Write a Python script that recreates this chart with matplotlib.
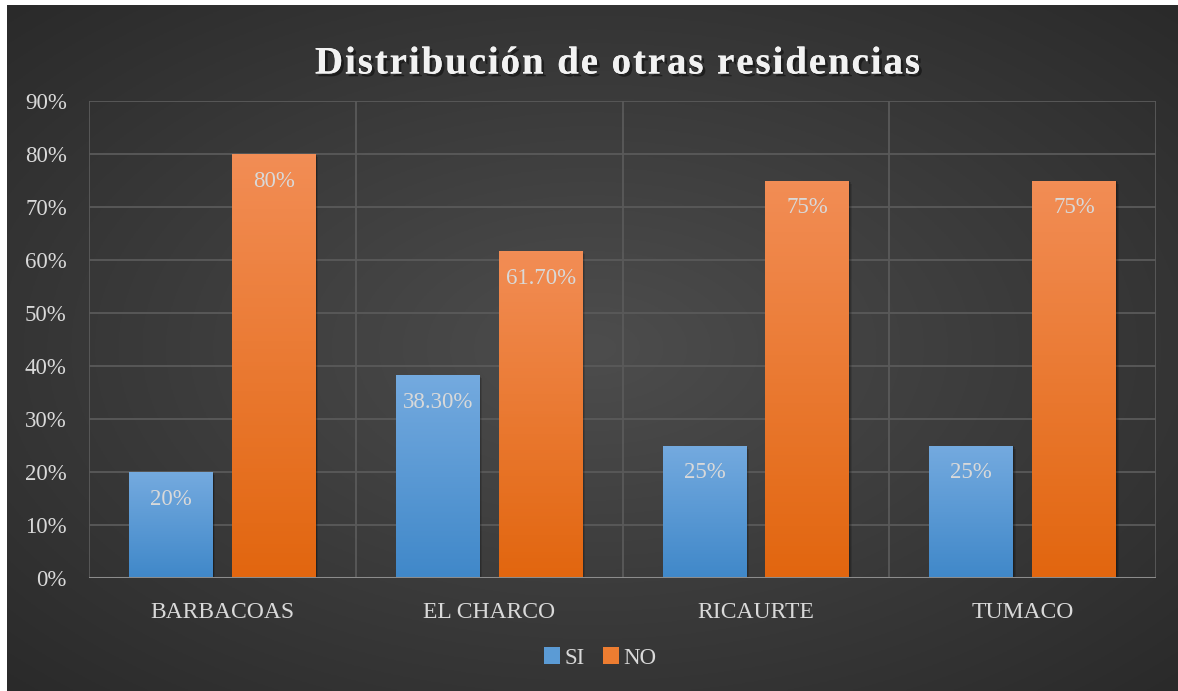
import numpy as np
import matplotlib
matplotlib.use("Agg")
import matplotlib.pyplot as plt
from matplotlib.patches import Rectangle, Patch
import matplotlib.patheffects as pe
from matplotlib.font_manager import FontProperties, findfont, get_font

categories = ["BARBACOAS", "EL CHARCO", "RICAURTE", "TUMACO"]
si_values = [0.20, 0.383, 0.25, 0.25]
no_values = [0.80, 0.617, 0.75, 0.75]
si_labels = ["20%", "38.30%", "25%", "25%"]
no_labels = ["80%", "61.70%", "75%", "75%"]
yticks = [0, 0.1, 0.2, 0.3, 0.4, 0.5, 0.6, 0.7, 0.8, 0.9]
ytick_labels = ["0%", "10%", "20%", "30%", "40%", "50%", "60%", "70%", "80%", "90%"]
title = "Distribución de otras residencias"

plt.rcParams['font.family'] = ['Liberation Serif', 'DejaVu Serif']

W, H = 1178, 691
DPI = 100
fig = plt.figure(figsize=(W/DPI, H/DPI), dpi=DPI)
fig.patch.set_facecolor("white")

# background with radial gradient
bg = fig.add_axes([7/W, 0, 1-7/W, 1-5/H])
bg.set_axis_off()
yy, xx = np.mgrid[0:1:300j, 0:1:500j]
r = np.sqrt(((xx-0.5)/0.75)**2 + ((yy-0.5)/0.75)**2)
r = np.clip(r, 0, 1)
c_in = np.array([0x4d, 0x4d, 0x4d])/255
c_out = np.array([0x28, 0x28, 0x28])/255
img = c_in[None, None, :]*(1-r[..., None]) + c_out[None, None, :]*r[..., None]
bg.imshow(img, extent=[0, 1, 0, 1], aspect='auto', origin='lower')
bg.set_xlim(0, 1); bg.set_ylim(0, 1)

ax = fig.add_axes([89/W, 1-578/H, (1156-89)/W, (578-101)/H])
ax.set_facecolor("none")
n = len(categories)
x = np.arange(n)
width = 0.314
off = 0.193

def grad_bar(xc, h, ctop, cbot):
    x0 = xc - width/2
    rect = Rectangle((x0, 0), width, h, facecolor="none", edgecolor="none", zorder=3)
    ax.add_patch(rect)
    for k, a in ((0.010, 0.12), (0.006, 0.15), (0.003, 0.18)):
        sh = Rectangle((x0+k, -k*0.6), width, h, facecolor="black", alpha=a,
                       edgecolor="none", zorder=2.5)
        ax.add_patch(sh)
    g = np.linspace(0, 1, 100)[:, None]
    ct = np.array(ctop); cb = np.array(cbot)
    im = cb[None, None, :]*(1-g[..., None]) + ct[None, None, :]*g[..., None]
    im = np.repeat(im, 2, axis=1)
    imh = ax.imshow(im, extent=[x0, x0+width, 0, h], origin='lower', aspect='auto', zorder=3)
    imh.set_clip_path(rect)

def hx(s):
    return [int(s[i:i+2], 16)/255 for i in (1, 3, 5)]

for i in range(n):
    grad_bar(x[i]-off, si_values[i], hx("#74aadf"), hx("#4088c9"))
    grad_bar(x[i]+off, no_values[i], hx("#f28d55"), hx("#e2660f"))
    ax.text(x[i]-off, si_values[i]-0.051, si_labels[i], ha="center", va="center",
            color="#d9d9d9", fontsize=16.5, zorder=5)
    ax.text(x[i]+off, no_values[i]-0.051, no_labels[i], ha="center", va="center",
            color="#d9d9d9", fontsize=16.5, zorder=5)

ax.set_xlim(-0.5, n-0.5)
ax.set_ylim(0, 0.9)
ax.set_yticks(yticks)
ax.set_yticklabels(ytick_labels)
ax.set_xticks(x)
ax.set_xticklabels(categories)
ax.tick_params(axis="both", length=0, colors="#d9d9d9", labelsize=16.5)
ax.tick_params(axis="x", pad=17, labelsize=17)
ax.tick_params(axis="y", pad=16)
for yv in yticks[1:]:
    ax.axhline(yv, color="#5a5a5a", lw=1.3, zorder=1)
for xv in np.arange(-0.5, n, 1.0):
    ax.axvline(xv, color="#5a5a5a", lw=1.3, zorder=1)
for s in ax.spines.values():
    s.set_visible(False)
ax.axhline(0, color="#8c8c8c", lw=2.2, zorder=4)

# title with letter spacing
tsize = 28
fp = FontProperties(family='Liberation Serif', weight='bold', size=tsize)
font = get_font(findfont(fp))
font.set_size(tsize, DPI)
adv = [font.load_char(ord(ch)).linearHoriAdvance / 65536 for ch in title]
target_w = 605
spacing = (target_w - sum(adv)) / (len(title) - 1)
xpos = 617.5 - target_w/2
for ch, a in zip(title, adv):
    if ch != " ":
        fig.text(xpos/W, 1-64/H, ch, ha="left", va="center", color="#f2f2f2",
                 fontproperties=fp,
                 path_effects=[pe.withSimplePatchShadow(offset=(2, -2), shadow_rgbFace="black", alpha=0.45),
                               pe.Normal()])
    xpos += a + spacing

# legend
handles = [Patch(facecolor="#5b9bd5", label="SI"), Patch(facecolor="#ed7d31", label="NO")]
leg = fig.legend(handles=handles, loc="center", bbox_to_anchor=(600/W, 1-658/H), ncol=2,
                 frameon=False, fontsize=16.5, handlelength=0.7, handleheight=0.7,
                 handletextpad=0.2, columnspacing=0.8, labelcolor="#d9d9d9")

fig.savefig("out.png", dpi=DPI, facecolor=fig.get_facecolor())
